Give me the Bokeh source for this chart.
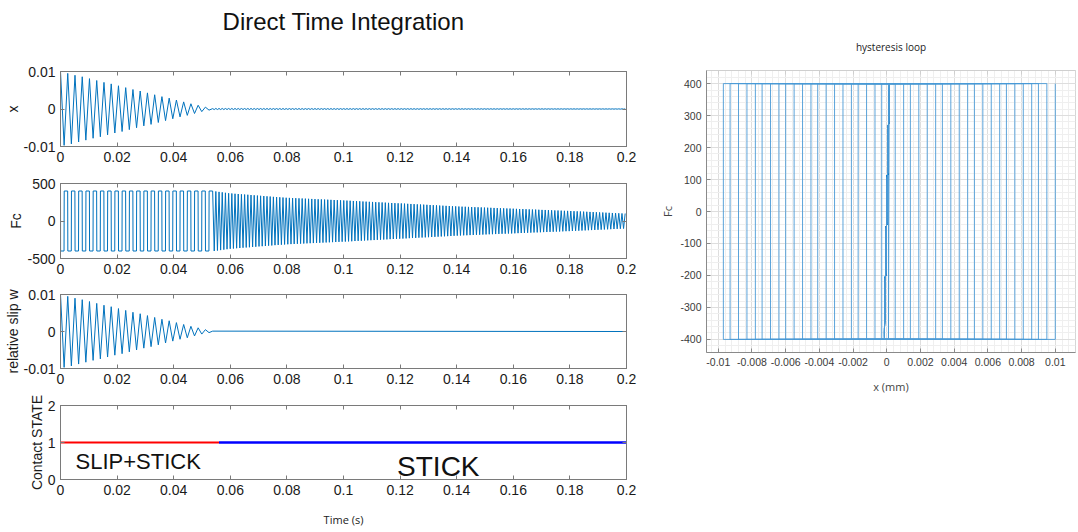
import numpy as np
from bokeh.plotting import figure
from bokeh.layouts import row, column
from bokeh.models import Range1d, FixedTicker, LinearAxis, Title, Label
from bokeh.embed import file_html
from bokeh.resources import INLINE

# ---------------- data ----------------
time_end = 0.2
time_ticks = [0, 0.02, 0.04, 0.06, 0.08, 0.1, 0.12, 0.14, 0.16, 0.18, 0.2]
time_tick_labels = ["0", "0.02", "0.04", "0.06", "0.08", "0.1", "0.12", "0.14", "0.16", "0.18", "0.2"]

# slip phase: displacement amplitude at each turning point (one per half cycle)
slip_half_period = 0.00128
slip_turn_amplitude = [
    0.0100, 0.0097, 0.0095, 0.0093, 0.0090, 0.0088, 0.0086, 0.0083, 0.0081, 0.0078,
    0.0076, 0.0074, 0.0071, 0.0069, 0.0067, 0.0064, 0.0062, 0.0060, 0.0057, 0.0055,
    0.0052, 0.0050, 0.0048, 0.0045, 0.0043, 0.0041, 0.0038, 0.0036, 0.0033, 0.0031,
    0.0029, 0.0026, 0.0024, 0.0021, 0.0019, 0.0017, 0.0014, 0.0012, 0.0010, 0.0007,
    0.0005, 0.0003, 0.0001,
]
friction_limit = 400.0

# stick phase: contact force amplitude of each cycle
stick_half_period = 0.000565
stick_force_amplitude = [
    400, 394, 388, 382, 376,
    370, 367, 363, 360, 356, 353, 350, 346, 343, 339, 336, 333, 329, 326, 322, 319, 316, 313,
    310, 308, 306, 304, 302, 300, 298, 296, 294, 292, 290, 288, 286, 284, 282, 280, 278, 276,
    274, 272, 270, 267, 265, 263, 260, 258, 256, 254, 251, 249, 247, 245, 242, 240, 238, 236,
    234, 232, 229, 227, 225, 222, 220, 218, 216, 213, 211, 209, 206, 204, 202, 200, 197, 195,
    193, 191, 190, 188, 186, 184, 183, 181, 179, 177, 176, 174, 172, 170, 169, 167, 166,
    164, 162, 160, 159, 157, 155, 153, 152, 150, 148, 147, 145, 143, 141, 140, 138, 136, 135,
    133, 131, 129, 127, 125, 123, 121, 119, 117, 115, 113, 111, 109, 107, 105, 103, 101, 100,
]
stick_compliance = 0.00015 / 400.0   # displacement per unit force while stuck

state_switch_time = 0.056
state_level = 1

hx_ticks = [-0.01, -0.008, -0.006, -0.004, -0.002, 0, 0.002, 0.004, 0.006, 0.008, 0.01]
hx_tick_labels = ["-0.01", "-0.008", "-0.006", "-0.004", "-0.002", "0",
                  "0.002", "0.004", "0.006", "0.008", "0.01"]
hy_ticks = [-400, -300, -200, -100, 0, 100, 200, 300, 400]
hy_tick_labels = ["-400", "-300", "-200", "-100", "0", "100", "200", "300", "400"]

# ---------------- series ----------------
n_slip = len(slip_turn_amplitude)
turn_sign = np.where(np.arange(n_slip) % 2 == 0, 1.0, -1.0)
t_turn = np.arange(n_slip) * slip_half_period
x_turn = turn_sign * np.array(slip_turn_amplitude)
t_slip_end = t_turn[-1]

n_half = 2 * len(stick_force_amplitude)
t_stick = t_slip_end + np.arange(n_half) * stick_half_period
fc_stick = np.where(np.arange(n_half) % 2 == 0, 1.0, -1.0) * np.repeat(stick_force_amplitude, 2)
keep = t_stick <= time_end + 1e-9
t_stick, fc_stick = t_stick[keep], fc_stick[keep]
x_stick = stick_compliance * fc_stick

# contact force during slip: a square wave switching at each turning point
edge = 0.00003
fc_t, fc_v = [0.0], [friction_limit]
for k in range(n_slip - 1):
    level = -friction_limit if k % 2 == 0 else friction_limit
    fc_t += [t_turn[k] + edge, t_turn[k + 1] - edge]
    fc_v += [level, level]
fc_time = np.concatenate([fc_t, t_stick])
fc_value = np.concatenate([fc_v, fc_stick])

x_time = np.concatenate([t_turn, t_stick[1:]])
x_value = np.concatenate([x_turn, x_stick[1:]])

w_time = np.concatenate([t_turn, [time_end]])
w_value = np.concatenate([x_turn, [0.0]])

# hysteresis loop: force flips at every reversal, then elastic sticking
hx, hy = [], []
for k in range(n_slip):
    before = friction_limit if k % 2 == 0 else -friction_limit
    hx += [x_turn[k], x_turn[k]]
    hy += [before, -before]
hx = np.concatenate([hx, x_stick])
hy = np.concatenate([hy, fc_stick])

# ---------------- styling helpers ----------------
FONT = "Liberation Sans"
SANS2 = "Open Sans"
BOX = "#7a7a7a"
TRACE = "#0072BD"


def style_axis(ax, ticks, labels, size="14px", color=BOX, label_color="#1a1a1a"):
    ax.ticker = FixedTicker(ticks=ticks)
    ax.axis_line_color = color
    ax.major_tick_line_color = color
    ax.major_tick_in = 4
    ax.major_tick_out = 0
    ax.minor_tick_line_color = None
    ax.major_label_text_font = FONT
    ax.major_label_text_color = label_color
    ax.axis_label_text_font_style = "normal"
    if labels is None:
        ax.major_label_overrides = {t: "" for t in ticks}
        ax.major_label_text_font_size = "0px"
        ax.major_label_standoff = 0
    else:
        ax.major_label_overrides = dict(zip(ticks, labels))
        ax.major_label_text_font_size = size
        ax.major_label_standoff = 5


def time_panel(y_lo, y_hi, yticks, ylabels, ylabel, top, frame_h, bottom):
    p = figure(width=640, height=top + frame_h + bottom,
               frame_width=566, frame_height=frame_h,
               min_border_left=60, min_border_right=14,
               min_border_top=top, min_border_bottom=bottom,
               x_range=Range1d(0, time_end), y_range=Range1d(y_lo, y_hi),
               output_backend="svg", toolbar_location=None)
    p.grid.visible = False
    p.outline_line_color = BOX
    p.background_fill_color = "white"
    style_axis(p.xaxis[0], time_ticks, time_tick_labels)
    style_axis(p.yaxis[0], yticks, ylabels)
    p.yaxis[0].axis_label = ylabel
    p.yaxis[0].axis_label_text_font = FONT
    p.yaxis[0].axis_label_text_font_size = "14px"
    p.yaxis[0].axis_label_text_color = "#1a1a1a"
    p.yaxis[0].axis_label_standoff = 0
    top_ax = LinearAxis()
    style_axis(top_ax, time_ticks, None)
    p.add_layout(top_ax, "above")
    right_ax = LinearAxis()
    style_axis(right_ax, yticks, None)
    p.add_layout(right_ax, "right")
    return p


def gap_axis(height):
    # an invisible axis that only reserves room between an axis and a title
    ax = LinearAxis()
    style_axis(ax, time_ticks, None)
    ax.axis_line_color = None
    ax.major_tick_line_color = None
    ax.major_tick_in = 0
    ax.major_tick_out = height
    return ax


p1 = time_panel(-0.01, 0.01, [-0.01, 0, 0.01], ["-0.01", "0", "0.01"], "x", 71, 75, 24)
p1.line(x_time, x_value, color=TRACE, line_width=1)
p1.add_layout(gap_axis(34), "above")
p1.add_layout(Title(text="Direct Time Integration", align="center", offset=-13,
                    text_font=FONT, text_font_size="24px", text_font_style="normal",
                    text_color="#111111", standoff=6), "above")

p2 = time_panel(-500, 500, [-500, 0, 500], ["-500", "0", "500"], "Fc", 13, 75, 24)
p2.line(fc_time, fc_value, color=TRACE, line_width=1)

p3 = time_panel(-0.01, 0.01, [-0.01, 0, 0.01], ["-0.01", "0", "0.01"], "relative slip w", 12, 74, 24)
p3.line(w_time, w_value, color=TRACE, line_width=1)

p4 = time_panel(0, 2, [0, 1, 2], ["0", "1", "2"], "Contact STATE", 13, 74, 53)
p4.line([0, state_switch_time], [state_level, state_level], color="#ff0000", line_width=2)
p4.line([state_switch_time, time_end], [state_level, state_level], color="#0000ff", line_width=2.5)
p4.add_layout(Label(x=0.0053, y=0.49, text="SLIP+STICK", text_baseline="middle",
                    text_font=FONT, text_font_size="22px", text_color="#111111"))
p4.add_layout(Label(x=0.1335, y=0.36, text="STICK", text_align="center", text_baseline="middle",
                    text_font=FONT, text_font_size="28px", text_color="#111111"))
p4.add_layout(gap_axis(10), "below")
p4.add_layout(Title(text="Time (s)", align="center", offset=-15, text_font=SANS2,
                    text_font_size="11px", text_font_style="normal", text_color="#222222",
                    standoff=4), "below")

# ---------------- hysteresis loop ----------------
h = figure(width=438, height=532, frame_width=369, frame_height=282,
           min_border_left=66, min_border_right=3, min_border_top=70, min_border_bottom=180,
           x_range=Range1d(-0.0107, 0.0112), y_range=Range1d(-441, 441),
           output_backend="svg", toolbar_location=None)
h.outline_line_color = "#d6d6d6"
h.title.text = "hysteresis loop"
h.title.align = "center"
h.title.text_font = SANS2
h.title.text_font_size = "10px"
h.title.text_font_style = "normal"
h.title.text_color = "#222222"
h.title.standoff = 34

hx_minor = list(np.round(np.arange(-0.0104, 0.0112, 0.0004), 6))
hy_minor = list(np.arange(-440, 441, 20))
style_axis(h.xaxis[0], hx_ticks, hx_tick_labels, size="10.5px", color="#8a8a8a", label_color="#3a3a3a")
style_axis(h.yaxis[0], hy_ticks, hy_tick_labels, size="10.5px", color="#8a8a8a", label_color="#3a3a3a")
h.xaxis[0].axis_label = "x (mm)"
h.xaxis[0].axis_label_text_font = SANS2
h.xaxis[0].axis_label_text_font_size = "11px"
h.xaxis[0].axis_label_standoff = 10
h.yaxis[0].axis_label = "Fc"
h.yaxis[0].axis_label_text_font = SANS2
h.yaxis[0].axis_label_text_font_size = "11px"
h.yaxis[0].axis_label_standoff = 2
h_top = LinearAxis()
style_axis(h_top, hx_ticks, None, color="#cfcfcf")
h.add_layout(h_top, "above")

h.xgrid.ticker = FixedTicker(ticks=hx_ticks, minor_ticks=hx_minor)
h.ygrid.ticker = FixedTicker(ticks=hy_ticks, minor_ticks=hy_minor)
h.grid.grid_line_color = "#dedede"
h.grid.minor_grid_line_color = "#efefef"

h.line(hx, hy, color="#4a9ad6", line_width=0.9)

left = column(p1, p2, p3, p4, spacing=0)
layout = row(left, h, spacing=0)

open("out.html", "w").write(file_html(layout, INLINE))
